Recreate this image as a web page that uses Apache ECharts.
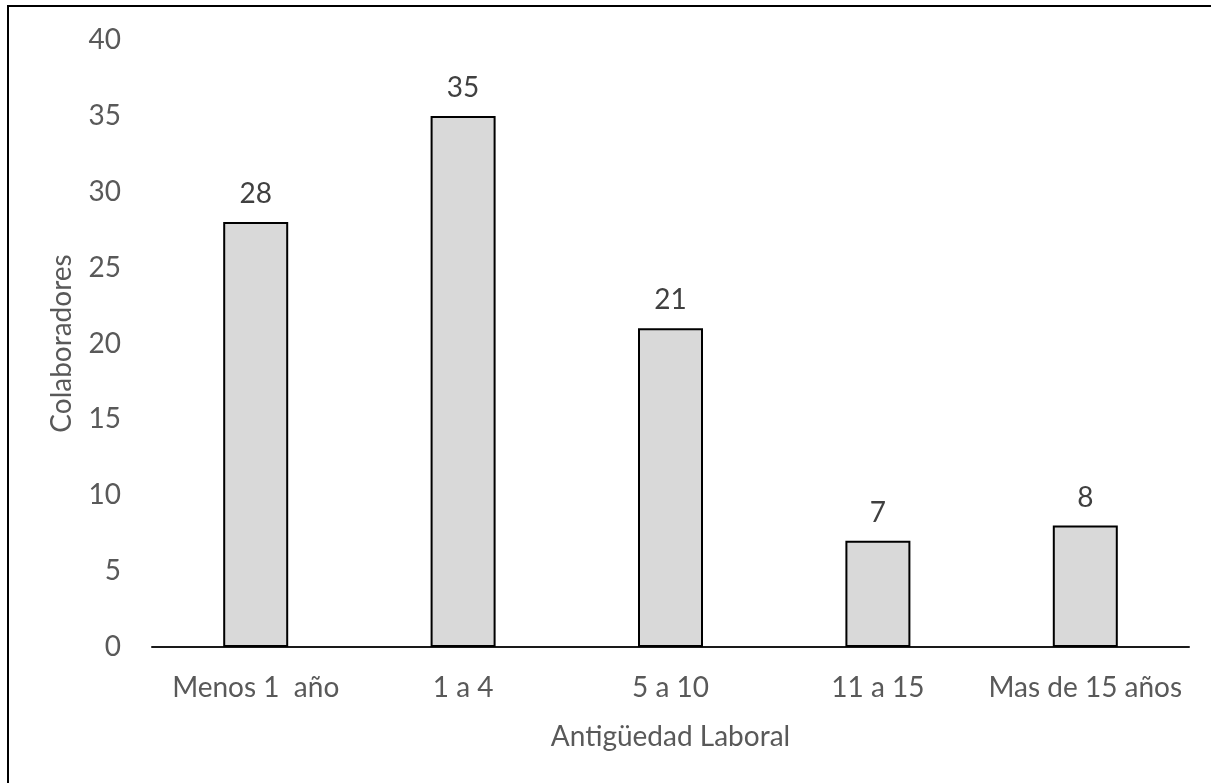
<!DOCTYPE html>
<html>
<head>
<meta charset="utf-8">
<script src="https://cdn.jsdelivr.net/npm/echarts@6/dist/echarts.min.js"></script>
<style>
  html, body { margin: 0; padding: 0; background: #fff; }
  #chart { width: 1211px; height: 783px; }
</style>
</head>
<body>
<div id="chart"></div>
<script>
// datos del grafico
const categories = ['Menos 1  año', '1 a 4', '5 a 10', '11 a 15', 'Mas de 15 años']
const colaboradores = [28, 35, 21, 7, 8]
const yMin = 0
const yMax = 40
const yStep = 5

const font = 'Lato, "Open Sans", sans-serif'
const fs = 28

const chart = echarts.init(document.getElementById('chart'))

chart.setOption({
  backgroundColor: '#fff',
  animation: false,
  graphic: [{
    type: 'rect',
    shape: { x: 8, y: 6, width: 1400, height: 1000 },
    style: { fill: 'none', stroke: '#000', lineWidth: 2 },
    silent: true
  }],
  grid: { left: 152, right: 22, top: 40, bottom: 136 },
  xAxis: {
    type: 'category',
    data: categories,
    name: 'Antigüedad Laboral',
    nameLocation: 'middle',
    nameGap: 76,
    nameTextStyle: { color: '#595959', fontSize: fs, fontFamily: font },
    axisLine: { lineStyle: { color: '#1a1a1a', width: 2 } },
    axisTick: { show: false },
    axisLabel: { color: '#595959', fontSize: fs, fontFamily: font, margin: 27, interval: 0 }
  },
  yAxis: {
    type: 'value',
    min: yMin,
    max: yMax,
    interval: yStep,
    name: 'Colaboradores',
    nameLocation: 'middle',
    nameGap: 76,
    nameTextStyle: { color: '#595959', fontSize: fs, fontFamily: font },
    axisLine: { show: false },
    axisTick: { show: false },
    splitLine: { show: false },
    axisLabel: { color: '#595959', fontSize: fs, fontFamily: font, margin: 31 }
  },
  series: [{
    type: 'bar',
    data: colaboradores,
    barWidth: 65,
    itemStyle: { color: '#d9d9d9', borderColor: '#000', borderWidth: 2 },
    label: {
      show: true,
      position: 'top',
      distance: 14,
      color: '#404040',
      fontSize: fs,
      fontFamily: font
    }
  }]
})
</script>
</body>
</html>
